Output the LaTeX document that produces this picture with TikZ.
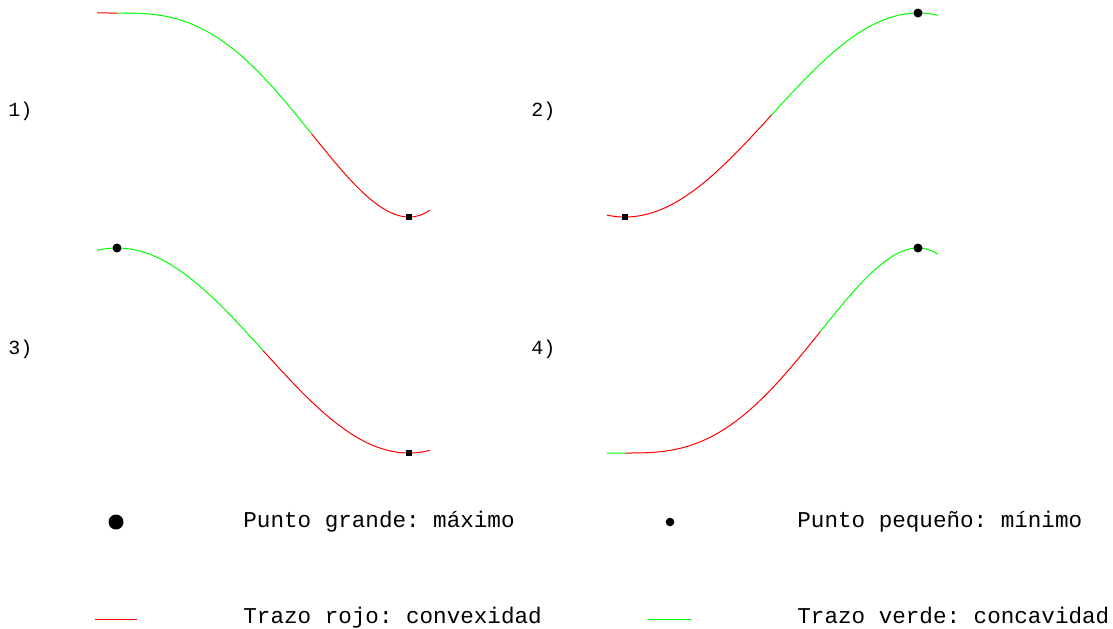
\documentclass[tikz,border=0pt]{standalone}
\usepackage{fontspec}
\setmonofont{Liberation Mono}
\usepackage{tikz}
\definecolor{rojo}{RGB}{255, 0, 0}
\definecolor{verde}{RGB}{0, 255, 0}
\tikzset{
	declare function={cq(\t)=4*\t*\t*\t-3*\t*\t*\t*\t;},
	texto/.style={anchor=base west, inner sep=0pt, font=\fontsize{11.3}{13}\selectfont\ttfamily},
	etiqueta/.style={texto, font=\fontsize{10}{12}\selectfont\ttfamily},
	trazorojo/.style={rojo, line width=0.5pt},
	trazoverde/.style={verde, line width=0.5pt},
	maximo/.style={circle, fill=black, inner sep=0pt, minimum size=4.5pt},
	minimo/.style={rectangle, fill=black, inner sep=0pt, minimum width=2.6pt, minimum height=3pt}
}

\begin{document}
\begin{tikzpicture}[x=0.5pt, y=-0.5pt]
	\useasboundingbox (0,0) rectangle (1113,628);
	% etiquetas
	\node[etiqueta] (lab1) at (8,116) {1)};
	\node[etiqueta] (lab2) at (531,116) {2)};
	\node[etiqueta] (lab3) at (8,354) {3)};
	\node[etiqueta] (lab4) at (531,354) {4)};
	% curva 1
	\draw[trazorojo] plot[domain=97:117, samples=10] (\x, {13+204*cq((\x-117)/292)});
	\draw[trazoverde] plot[domain=117:311.67, samples=60] (\x, {13+204*cq((\x-117)/292)});
	\draw[trazorojo] plot[domain=311.67:430, samples=50] (\x, {13+204*cq((\x-117)/292)});
	\node[minimo] (min1) at (409,217) {};
	% curva 2
	\draw[trazorojo] plot[domain=607:771.5, samples=60] (\x, {115+102*cos((\x-625)/293*180)});
	\draw[trazoverde] plot[domain=771.5:938, samples=60] (\x, {115+102*cos((\x-625)/293*180)});
	\node[minimo] (min2) at (625,217) {};
	\node[maximo] (max2) at (918,13) {};
	% curva 3
	\draw[trazoverde] plot[domain=97:263, samples=60] (\x, {350.5-102.5*cos((\x-117)/292*180)});
	\draw[trazorojo] plot[domain=263:430, samples=60] (\x, {350.5-102.5*cos((\x-117)/292*180)});
	\node[maximo] (max3) at (117,248) {};
	\node[minimo] (min3) at (409,453) {};
	% curva 4
	\draw[trazoverde] plot[domain=607:625, samples=10] (\x, {453-205*cq((\x-625)/293)});
	\draw[trazorojo] plot[domain=625:820.33, samples=60] (\x, {453-205*cq((\x-625)/293)});
	\draw[trazoverde] plot[domain=820.33:938, samples=50] (\x, {453-205*cq((\x-625)/293)});
	\node[maximo] (max4) at (918,248) {};
	% leyenda
	\node[circle, fill=black, inner sep=0pt, minimum size=7.5pt] (ptogrande) at (116,522) {};
	\node[texto] (txtgrande) at (243,527) {Punto grande: máximo};
	\node[circle, fill=black, inner sep=0pt, minimum size=4.3pt] (ptopeq) at (670,522) {};
	\node[texto] (txtpeq) at (797,527) {Punto pequeño: mínimo};
	\coordinate (rojoA) at (95,619);
	\coordinate (rojoB) at (137,619);
	\draw[trazorojo] (rojoA) -- (rojoB);
	\node[texto] (txtrojo) at (243,623) {Trazo rojo: convexidad};
	\coordinate (verdeA) at (648,619);
	\coordinate (verdeB) at (691,619);
	\draw[trazoverde] (verdeA) -- (verdeB);
	\node[texto] (txtverde) at (797,623) {Trazo verde: concavidad};
\end{tikzpicture}
\end{document}
